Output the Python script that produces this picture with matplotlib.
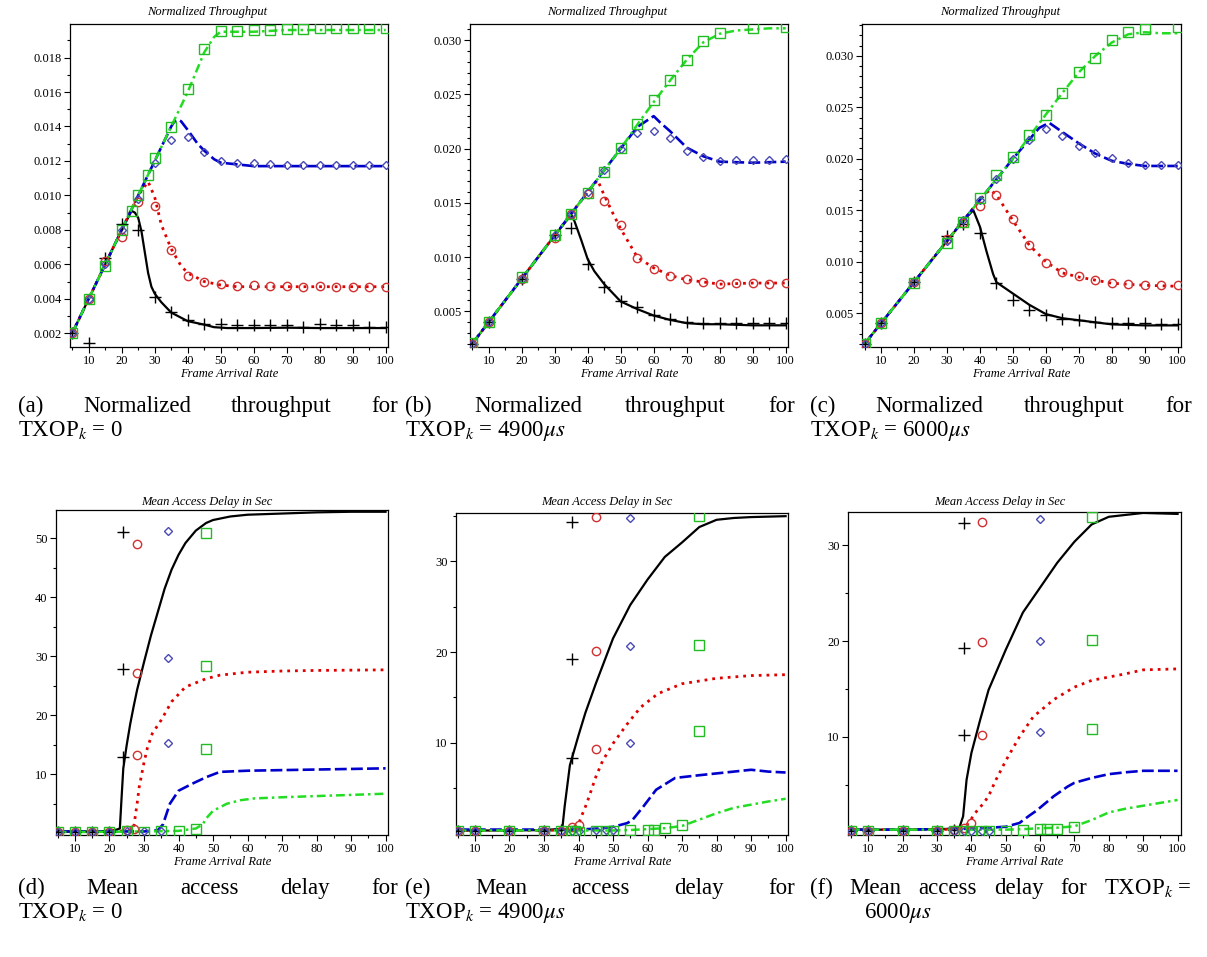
import matplotlib
matplotlib.use("Agg")
import matplotlib.pyplot as plt
from matplotlib.ticker import MultipleLocator, FixedLocator, FormatStrFormatter

plt.rcParams['font.family'] = ['Liberation Serif', 'DejaVu Serif']
plt.rcParams['mathtext.fontset'] = 'stix'

# ---------------- (a) throughput, TXOP = 0 ----------------
a_mx = [5, 10, 15, 20, 25, 30, 35, 40, 45, 50, 55, 60, 65, 70, 75, 80, 85, 90, 95, 100]
a_blk_m = [0.0020, 0.00142, 0.00634, 0.00836, 0.00797, 0.00413, 0.00324, 0.00274, 0.00254, 0.00252,
           0.00248, 0.00246, 0.00246, 0.00246, 0.00239, 0.00254, 0.00246, 0.00246, 0.00239, 0.00239]
a_red_m = [0.0020, 0.0040, 0.0062, 0.00758, 0.0096, 0.0094, 0.00684, 0.00533, 0.00498, 0.00485,
           0.00477, 0.00481, 0.00475, 0.00475, 0.00471, 0.00475, 0.00471, 0.00471, 0.00471, 0.00471]
a_blu_m = [0.0020, 0.0040, 0.0060, 0.0080, 0.0098, 0.01188, 0.01324, 0.01337, 0.01252, 0.01198,
           0.01188, 0.01188, 0.01184, 0.01179, 0.01179, 0.01179, 0.01179, 0.01179, 0.01179, 0.01179]
a_grn_mx = [5, 10, 15, 20, 23, 25, 28, 30, 35, 40, 45, 50, 55, 60, 65, 70, 75, 80, 85, 90, 95, 100]
a_grn_m = [0.0020, 0.0040, 0.0059, 0.0080, 0.0091, 0.01004, 0.01117, 0.01217, 0.01398, 0.0162, 0.01847,
           0.01954, 0.01956, 0.01958, 0.01962, 0.01967, 0.01967, 0.01969, 0.01969, 0.01969, 0.01971, 0.01971]
a_blk_lx = [5, 10, 15, 20, 23, 24, 25, 26, 27, 28, 29, 30, 32, 35, 38, 40, 45, 48, 52, 60, 70, 80, 90, 100]
a_blk_ly = [0.002, 0.004, 0.006, 0.008, 0.0091, 0.0090, 0.0087, 0.0079, 0.0067, 0.0055, 0.0047, 0.0043,
            0.0038, 0.0032, 0.0029, 0.0027, 0.0025, 0.00235, 0.0023, 0.0023, 0.00232, 0.0023, 0.0023, 0.0023]
a_red_lx = [5, 10, 15, 20, 25, 28, 30, 32, 35, 38, 40, 45, 50, 55, 60, 70, 80, 90, 100]
a_red_ly = [0.002, 0.004, 0.006, 0.008, 0.010, 0.0108, 0.0099, 0.0083, 0.0069, 0.0059, 0.0055, 0.0050,
            0.0048, 0.0047, 0.0047, 0.0047, 0.0047, 0.0047, 0.0047]
a_blu_lx = [5, 10, 20, 30, 35, 36, 37, 38, 40, 43, 45, 48, 50, 55, 60, 70, 80, 90, 100]
a_blu_ly = [0.002, 0.004, 0.008, 0.012, 0.0140, 0.0143, 0.0144, 0.0143, 0.0138, 0.0130, 0.0126, 0.0121,
            0.0119, 0.0118, 0.0117, 0.0117, 0.0117, 0.0117, 0.0117]
a_grn_lx = [5, 10, 20, 30, 40, 45, 48, 50, 55, 60, 70, 80, 90, 100]
a_grn_ly = [0.002, 0.004, 0.008, 0.012, 0.016, 0.0183, 0.0192, 0.0195, 0.0195, 0.0195, 0.0196, 0.0196,
            0.0196, 0.0196]

# ---------------- (b) throughput, TXOP = 4900us ----------------
b_mx = [5, 10, 20, 30, 35, 40, 45, 50, 55, 60, 65, 70, 75, 80, 85, 90, 95, 100]
b_blk_m = [0.0020, 0.0040, 0.0080, 0.0120, 0.0127, 0.00932, 0.00725, 0.00596, 0.0054, 0.00469,
           0.00432, 0.00401, 0.00392, 0.00395, 0.00392, 0.00392, 0.00392, 0.00392]
b_red_m = [0.0020, 0.0040, 0.0080, 0.0118, 0.0140, 0.0158, 0.01517, 0.01292, 0.00987, 0.00892,
           0.00824, 0.00799, 0.00771, 0.0075, 0.00756, 0.00756, 0.00753, 0.00756]
b_blu_m = [0.0020, 0.0040, 0.0080, 0.0120, 0.0140, 0.0160, 0.0180, 0.0200, 0.02143, 0.02165,
           0.02094, 0.0198, 0.01921, 0.01887, 0.01897, 0.01897, 0.01897, 0.01903]
b_grn_mx = [5, 10, 20, 30, 35, 40, 45, 50, 55, 60, 65, 70, 75, 80, 90, 100]
b_grn_m = [0.0021, 0.0040, 0.0082, 0.0120, 0.0140, 0.0159, 0.0178, 0.0201, 0.02229, 0.02452,
           0.02636, 0.02821, 0.0299, 0.03068, 0.0311, 0.0312]
b_blk_lx = [5, 10, 20, 30, 35, 36, 38, 40, 42, 45, 50, 55, 60, 65, 70, 75, 80, 90, 100]
b_blk_ly = [0.002, 0.004, 0.008, 0.012, 0.0139, 0.0133, 0.0116, 0.0098, 0.0087, 0.0075, 0.0059,
            0.0052, 0.0046, 0.0042, 0.0039, 0.0038, 0.0038, 0.0037, 0.0037]
b_red_lx = [5, 10, 20, 30, 40, 43, 45, 48, 50, 55, 60, 65, 70, 75, 80, 90, 100]
b_red_ly = [0.002, 0.004, 0.008, 0.012, 0.016, 0.0171, 0.0157, 0.0138, 0.0126, 0.0100, 0.0090,
            0.0083, 0.0079, 0.0077, 0.0075, 0.0076, 0.0076]
b_blu_lx = [5, 10, 20, 30, 40, 50, 55, 58, 60, 62, 65, 70, 75, 80, 90, 100]
b_blu_ly = [0.002, 0.004, 0.008, 0.012, 0.016, 0.020, 0.0220, 0.0226, 0.0230, 0.0224, 0.0216,
            0.0201, 0.0193, 0.0188, 0.0187, 0.0188]
b_grn_lx = [5, 10, 20, 30, 40, 50, 55, 60, 65, 70, 75, 80, 85, 90, 95, 100]
b_grn_ly = [0.002, 0.004, 0.008, 0.012, 0.016, 0.020, 0.0222, 0.0243, 0.0263, 0.0282, 0.0298,
            0.0306, 0.0309, 0.0310, 0.0311, 0.0311]

# ---------------- (c) throughput, TXOP = 6000us ----------------
c_mx = [5, 10, 20, 30, 35, 40, 45, 50, 55, 60, 65, 70, 75, 80, 85, 90, 95, 100]
c_blk_m = [0.0020, 0.0040, 0.0080, 0.0125, 0.01363, 0.01278, 0.00792, 0.00623, 0.00532, 0.00477,
           0.00445, 0.00429, 0.00412, 0.00403, 0.00403, 0.00403, 0.0039, 0.0039]
c_red_m = [0.0020, 0.0040, 0.0080, 0.01217, 0.0138, 0.01541, 0.01651, 0.01411, 0.01158, 0.00986,
           0.00899, 0.00857, 0.00818, 0.00792, 0.00785, 0.00776, 0.00776, 0.00769]
c_blu_m = [0.0020, 0.0040, 0.0080, 0.0120, 0.0140, 0.0160, 0.0180, 0.0200, 0.0218, 0.02287,
           0.02219, 0.02125, 0.0206, 0.02008, 0.0196, 0.01944, 0.01944, 0.01944]
c_grn_mx = [5, 10, 20, 30, 35, 40, 45, 50, 55, 60, 65, 70, 75, 80, 85, 90, 100]
c_grn_m = [0.0020, 0.0040, 0.0079, 0.0118, 0.0139, 0.0162, 0.01839, 0.02017, 0.02227, 0.02422,
           0.0264, 0.02844, 0.02984, 0.03152, 0.03233, 0.03266, 0.03276]
c_blk_lx = [5, 10, 20, 30, 35, 38, 40, 42, 44, 45, 50, 55, 60, 65, 70, 75, 80, 90, 100]
c_blk_ly = [0.002, 0.004, 0.008, 0.012, 0.014, 0.0150, 0.0134, 0.0110, 0.0088, 0.0080, 0.0069,
            0.0058, 0.0049, 0.0045, 0.0043, 0.0041, 0.0039, 0.0038, 0.0038]
c_red_lx = [5, 10, 20, 30, 40, 43, 45, 50, 55, 60, 65, 70, 75, 80, 90, 100]
c_red_ly = [0.002, 0.004, 0.008, 0.012, 0.016, 0.0170, 0.0165, 0.0140, 0.0116, 0.0100, 0.0089,
            0.0085, 0.0082, 0.0079, 0.0077, 0.0076]
c_blu_lx = [5, 10, 20, 30, 40, 50, 58, 61, 65, 70, 75, 80, 85, 90, 100]
c_blu_ly = [0.002, 0.004, 0.008, 0.012, 0.016, 0.020, 0.0230, 0.0235, 0.0226, 0.0215, 0.0205,
            0.0198, 0.0195, 0.0193, 0.0193]
c_grn_lx = [5, 10, 20, 30, 40, 50, 60, 65, 70, 75, 80, 85, 90, 95, 100]
c_grn_ly = [0.002, 0.004, 0.008, 0.012, 0.016, 0.020, 0.0243, 0.0264, 0.0284, 0.0300, 0.0313,
            0.0321, 0.0323, 0.0322, 0.0322]

# ---------------- (d) mean access delay, TXOP = 0 ----------------
d_blk_lx = [5, 10, 15, 20, 22, 23, 23.5, 24, 25, 26, 27, 28, 30, 32, 34, 36, 38, 40, 42, 45, 48,
            50, 55, 60, 70, 80, 90, 100]
d_blk_ly = [0.3, 0.3, 0.3, 0.4, 0.6, 0.8, 6, 11, 15, 18.5, 21.5, 24.3, 29, 33.5, 37.5, 41.5, 44.7,
            47.2, 49.2, 51.3, 52.6, 53.1, 53.7, 54.0, 54.2, 54.4, 54.5, 54.5]
d_red_lx = [5, 10, 15, 20, 25, 26, 27, 28, 28.6, 30, 31, 32.4, 35, 38, 42, 48, 52, 60, 70, 80, 100]
d_red_ly = [0.3, 0.3, 0.3, 0.3, 0.4, 0.5, 1.0, 5, 7.8, 12, 14.5, 16.9, 19.2, 22.3, 24.8, 26.2,
            26.8, 27.3, 27.5, 27.6, 27.7]
d_blu_lx = [5, 10, 20, 30, 34, 35.5, 37.5, 40, 44, 48, 52, 60, 80, 100]
d_blu_ly = [0.3, 0.3, 0.3, 0.3, 0.5, 1.5, 5.0, 7.2, 8.4, 9.5, 10.4, 10.6, 10.8, 11.0]
d_grn_lx = [5, 10, 20, 30, 40, 45, 47, 48, 50, 54, 58, 62, 70, 80, 90, 100]
d_grn_ly = [0.2, 0.2, 0.25, 0.3, 0.4, 0.8, 1.5, 2.5, 3.8, 5.0, 5.6, 5.9, 6.1, 6.3, 6.5, 6.7]
d_blk_mx = [5, 10, 15, 20, 24, 24, 24]
d_blk_my = [0.2, 0.2, 0.2, 0.2, 51.0, 27.9, 12.9]
d_red_mx = [5, 10, 15, 20, 25, 27, 28, 28, 28]
d_red_my = [0.2, 0.2, 0.2, 0.2, 0.5, 0.8, 49.1, 27.1, 13.2]
d_blu_mx = [5, 10, 15, 20, 25, 30, 35, 37, 37, 37]
d_blu_my = [0.2, 0.2, 0.2, 0.2, 0.3, 0.3, 0.4, 51.3, 29.7, 15.3]
d_grn_mx = [5, 10, 15, 20, 25, 30, 35, 40, 45, 48, 48, 48]
d_grn_my = [0.2, 0.2, 0.2, 0.2, 0.3, 0.2, 0.3, 0.4, 0.8, 50.9, 28.4, 14.2]

# ---------------- (e) mean access delay, TXOP = 4900us ----------------
e_blk_lx = [5, 10, 20, 30, 34, 35.3, 36, 37.5, 40, 42, 45, 50, 55, 60, 65, 70, 75, 80, 85, 90, 100]
e_blk_ly = [0.3, 0.3, 0.3, 0.35, 0.45, 0.5, 3, 7.5, 10.8, 13.3, 16.5, 21.5, 25.2, 28, 30.5, 32.1,
            33.8, 34.6, 34.8, 34.9, 35.0]
e_red_lx = [5, 10, 20, 30, 35, 38, 40, 41, 42.4, 45, 47, 50, 54, 58, 63, 70, 80, 90, 100]
e_red_ly = [0.3, 0.3, 0.3, 0.3, 0.35, 0.5, 1.0, 2.0, 3.3, 6.2, 8.0, 9.9, 12.0, 13.9, 15.4, 16.5,
            17.1, 17.4, 17.5]
e_blu_lx = [5, 10, 20, 30, 40, 45, 50, 54, 55.5, 58.7, 62.5, 68, 75, 85, 90, 95, 100]
e_blu_ly = [0.4, 0.4, 0.4, 0.4, 0.4, 0.5, 0.7, 1.1, 1.4, 2.9, 4.8, 6.1, 6.4, 6.8, 7.0, 6.8, 6.7]
e_grn_lx = [5, 10, 20, 30, 40, 50, 55, 60, 65, 70, 75, 80, 85, 90, 95, 100]
e_grn_ly = [0.3, 0.3, 0.3, 0.3, 0.3, 0.3, 0.35, 0.45, 0.55, 0.8, 1.5, 2.2, 2.8, 3.15, 3.5, 3.8]
e_blk_mx = [5, 10, 20, 30, 35, 38, 38, 38]
e_blk_my = [0.2, 0.2, 0.2, 0.2, 0.3, 34.4, 19.25, 8.3]
e_red_mx = [5, 10, 20, 30, 35, 38, 40, 45, 45, 45]
e_red_my = [0.2, 0.2, 0.2, 0.2, 0.2, 0.65, 0.9, 34.9, 20.1, 9.3]
e_blu_mx = [5, 10, 20, 30, 35, 38, 40, 45, 48, 50, 55, 55, 55]
e_blu_my = [0.2, 0.2, 0.2, 0.2, 0.2, 0.2, 0.2, 0.3, 0.3, 0.3, 34.8, 20.7, 10.0]
e_grn_mx = [5, 10, 20, 30, 35, 38, 39, 40, 45, 48, 50, 55, 60, 62, 65, 70, 75, 75, 75]
e_grn_my = [0.2, 0.2, 0.2, 0.2, 0.2, 0.2, 0.2, 0.1, 0.2, 0.2, 0.2, 0.3, 0.35, 0.35, 0.55, 0.9,
            35.0, 20.8, 11.3]

# ---------------- (f) mean access delay, TXOP = 6000us ----------------
f_blk_lx = [5, 10, 20, 30, 35, 36.6, 37.6, 38.6, 40, 42.5, 45, 50, 55, 60, 65, 70, 75, 80, 90, 100]
f_blk_ly = [0.3, 0.3, 0.3, 0.35, 0.4, 0.6, 1.7, 5.5, 8.3, 11.7, 14.9, 19.1, 23.0, 25.6, 28.2, 30.4,
            32.2, 33.0, 33.4, 33.3]
f_red_lx = [5, 10, 20, 30, 35, 38, 39.6, 41, 43.4, 45, 47, 50, 54, 58, 64, 70, 75, 85, 90, 100]
f_red_ly = [0.3, 0.3, 0.3, 0.3, 0.35, 0.5, 1.2, 2.0, 3.0, 3.8, 5.4, 7.5, 10.0, 12.1, 13.9, 15.2,
            15.9, 16.6, 17.0, 17.1]
f_blu_lx = [5, 10, 20, 30, 40, 45, 50, 54, 57, 59, 62, 64, 68, 70, 75, 80, 85, 90, 100]
f_blu_ly = [0.3, 0.3, 0.3, 0.35, 0.4, 0.5, 0.6, 1.0, 1.8, 2.3, 3.2, 3.8, 4.8, 5.2, 5.7, 6.1, 6.3,
            6.45, 6.45]
f_grn_lx = [5, 10, 20, 30, 40, 50, 55, 60, 65, 70, 75, 80, 85, 90, 95, 100]
f_grn_ly = [0.3, 0.3, 0.3, 0.3, 0.3, 0.3, 0.35, 0.45, 0.5, 0.65, 1.3, 2.1, 2.5, 2.8, 3.1, 3.4]
f_blk_mx = [5, 10, 20, 30, 35, 38, 38, 38]
f_blk_my = [0.2, 0.2, 0.2, 0.2, 0.3, 32.3, 19.3, 10.2]
f_red_mx = [5, 10, 20, 30, 35, 38, 40, 43, 43, 43]
f_red_my = [0.2, 0.2, 0.2, 0.2, 0.3, 0.5, 1.0, 32.5, 19.9, 10.2]
f_blu_mx = [5, 10, 20, 30, 35, 38, 40, 43, 45, 60, 60, 60]
f_blu_my = [0.2, 0.2, 0.2, 0.2, 0.2, 0.2, 0.2, 0.2, 0.2, 32.8, 20.0, 10.5]
f_grn_mx = [5, 10, 20, 30, 35, 38, 40, 43, 45, 50, 55, 60, 62, 65, 70, 75, 75, 75]
f_grn_my = [0.2, 0.2, 0.2, 0.2, 0.2, 0.2, 0.2, 0.2, 0.2, 0.2, 0.3, 0.35, 0.35, 0.4, 0.6,
            33.0, 20.1, 10.8]

THR_TITLE = "Normalized Throughput"
DLY_TITLE = "Mean Access Delay in Sec"
XLABEL = "Frame Arrival Rate"

W, H = 1207, 957
fig = plt.figure(figsize=(W / 100, H / 100), dpi=100)

LINE_STY = [dict(color='black', ls='-', lw=1.6),
            dict(color='#e00000', ls=(0, (1, 1.8)), lw=2.0),
            dict(color='#0000cc', ls=(0, (4.5, 1.6)), lw=1.9),
            dict(color='#22dd22', ls=(0, (3.5, 1.6, 1, 1.6)), lw=1.8)]
MARK_STY = [dict(marker='+', color='black', ms=8, mew=1.0),
            dict(marker='o', mfc='none', mec='#d03030', ms=6, mew=1.0),
            dict(marker='D', mfc='none', mec='#4a4ab4', ms=4.5, mew=1.0),
            dict(marker='s', mfc='none', mec='#22bb22', ms=7, mew=1.0)]


def panel(box, lines, marks, xlim, ylim, ymaj, ymin, yfmt, title, title_x, title_dy):
    l, r, t, b = box
    ax = fig.add_axes([l / W, 1 - b / H, (r - l) / W, (b - t) / H])
    for (lx, ly), st in zip(lines, LINE_STY):
        ax.plot(lx, ly, **st, zorder=2)
    for (mx, my), st in zip(marks, MARK_STY):
        ax.plot(mx, my, ls='none', **st, zorder=3)
    ax.set_xlim(*xlim)
    ax.set_ylim(*ylim)
    ax.xaxis.set_major_locator(FixedLocator(range(10, 101, 10)))
    ax.xaxis.set_minor_locator(MultipleLocator(5))
    if ymaj is None:
        # delay panels: no label at zero
        ax.yaxis.set_major_locator(FixedLocator(range(10, 60, 10)))
        ax.yaxis.set_minor_locator(FixedLocator(range(5, 60, 10)))
    else:
        ax.yaxis.set_major_locator(MultipleLocator(ymaj))
        ax.yaxis.set_minor_locator(MultipleLocator(ymin))
    ax.yaxis.set_major_formatter(FormatStrFormatter(yfmt))
    ax.tick_params(which='both', direction='out', top=False, right=False, labelsize=9, pad=2)
    ax.tick_params(which='major', length=4, width=0.8)
    ax.tick_params(which='minor', length=2.5, width=0.8)
    for s in ax.spines.values():
        s.set_linewidth(0.9)
    h = b - t
    ax.text((title_x - l) / (r - l), 1 + title_dy / h, title, transform=ax.transAxes,
            ha='center', va='center', fontsize=9, style='italic')
    ax.text(0.5, -27 / h, XLABEL, transform=ax.transAxes, ha='center', va='center',
            fontsize=9, style='italic')
    return ax


panel((70, 388, 24, 347),
      [(a_blk_lx, a_blk_ly), (a_red_lx, a_red_ly), (a_blu_lx, a_blu_ly), (a_grn_lx, a_grn_ly)],
      [(a_mx, a_blk_m), (a_mx, a_red_m), (a_mx, a_blu_m), (a_grn_mx, a_grn_m)],
      (4.33, 100.7), (0.0012, 0.01995), 0.002, 0.001, '%.3f', THR_TITLE, 207, 12)
panel((470, 788, 24, 347),
      [(b_blk_lx, b_blk_ly), (b_red_lx, b_red_ly), (b_blu_lx, b_blu_ly), (b_grn_lx, b_grn_ly)],
      [(b_mx, b_blk_m), (b_mx, b_red_m), (b_mx, b_blu_m), (b_grn_mx, b_grn_m)],
      (4.33, 100.7), (0.0017, 0.0315), 0.005, 0.001, '%.3f', THR_TITLE, 607, 12)
panel((862, 1181, 24, 347),
      [(c_blk_lx, c_blk_ly), (c_red_lx, c_red_ly), (c_blu_lx, c_blu_ly), (c_grn_lx, c_grn_ly)],
      [(c_mx, c_blk_m), (c_mx, c_red_m), (c_mx, c_blu_m), (c_grn_mx, c_grn_m)],
      (4.24, 101.0), (0.0017, 0.0331), 0.005, 0.001, '%.3f', THR_TITLE, 1000, 12)
panel((56, 388, 510, 835),
      [(d_blk_lx, d_blk_ly), (d_red_lx, d_red_ly), (d_blu_lx, d_blu_ly), (d_grn_lx, d_grn_ly)],
      [(d_blk_mx, d_blk_my), (d_red_mx, d_red_my), (d_blu_mx, d_blu_my), (d_grn_mx, d_grn_my)],
      (4.5, 100.7), (-0.3, 54.8), None, None, '%d', DLY_TITLE, 207, 8)
panel((456, 788, 513, 835),
      [(e_blk_lx, e_blk_ly), (e_red_lx, e_red_ly), (e_blu_lx, e_blu_ly), (e_grn_lx, e_grn_ly)],
      [(e_blk_mx, e_blk_my), (e_red_mx, e_red_my), (e_blu_mx, e_blu_my), (e_grn_mx, e_grn_my)],
      (4.5, 100.7), (-0.2, 35.35), None, None, '%d', DLY_TITLE, 607, 11)
panel((848, 1181, 512, 835),
      [(f_blk_lx, f_blk_ly), (f_red_lx, f_red_ly), (f_blu_lx, f_blu_ly), (f_grn_lx, f_grn_ly)],
      [(f_blk_mx, f_blk_my), (f_red_mx, f_red_my), (f_blu_mx, f_blu_my), (f_grn_mx, f_grn_my)],
      (4.1, 101.0), (-0.26, 33.5), None, None, '%d', DLY_TITLE, 1000, 10)

# captions (first lines justified like the LaTeX subcaptions)
CAP = 16.5
renderer = fig.canvas.get_renderer()


def caption_line(words, x0, y, x1=None):
    texts = [fig.text(x0 / W, 1 - y / H, w, fontsize=CAP, ha='left', va='baseline') for w in words]
    if x1 is None or len(texts) < 2:
        return
    widths = [t.get_window_extent(renderer).width for t in texts]
    gap = (x1 - x0 - sum(widths)) / (len(texts) - 1)
    x = x0
    for t, wdt in zip(texts, widths):
        t.set_x(x / W)
        x += wdt + gap


caption_line(["(a)", "Normalized", "throughput", "for"], 18, 412, 398)
caption_line([r"TXOP$_k$ = 0"], 18, 436)
caption_line(["(b)", "Normalized", "throughput", "for"], 405, 412, 795)
caption_line([r"TXOP$_k$ = 4900$\mu s$"], 405, 436)
caption_line(["(c)", "Normalized", "throughput", "for"], 810, 412, 1192)
caption_line([r"TXOP$_k$ = 6000$\mu s$"], 810, 436)
caption_line(["(d)", "Mean", "access", "delay", "for"], 18, 894, 398)
caption_line([r"TXOP$_k$ = 0"], 18, 918)
caption_line(["(e)", "Mean", "access", "delay", "for"], 405, 894, 795)
caption_line([r"TXOP$_k$ = 4900$\mu s$"], 405, 918)
caption_line(["(f)", "Mean", "access", "delay", "for", r"TXOP$_k$ ="], 810, 894, 1192)
caption_line([r"6000$\mu s$"], 864, 918)

fig.savefig("out.png", dpi=100)
